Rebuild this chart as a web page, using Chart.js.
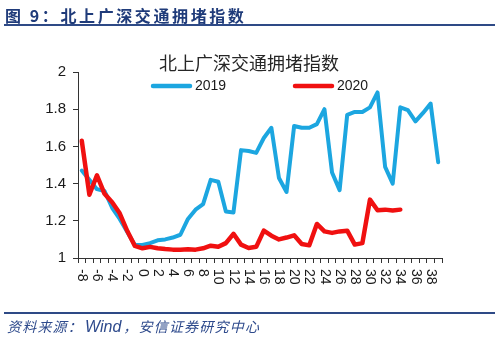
<!DOCTYPE html>
<html>
<head>
<meta charset="utf-8">
<script src="https://cdn.jsdelivr.net/npm/chart.js@4.4.0/dist/chart.umd.min.js"></script>
<style>
  html, body { margin: 0; padding: 0; background: #fff; }
  #wrap { position: relative; width: 500px; height: 337px; overflow: hidden; }
  #c { position: absolute; left: 0; top: 0; }
  .head { position: absolute; left: 5px; top: 3px; line-height: 20px; font: bold 16px "Noto Sans CJK SC"; color: #1F3B7A; letter-spacing: 2.6px; white-space: nowrap; }
  .rule { position: absolute; left: 4px; width: 491px; height: 2px; background: #2E4A86; }
  .src { position: absolute; left: 7px; top: 316px; line-height: 19px; font: italic 14px "Noto Sans CJK SC"; color: #2E4A8C; letter-spacing: 1.2px; white-space: nowrap; }
  .src b { font: italic 16px "Liberation Sans", Arial, sans-serif; letter-spacing: 0; padding: 0 2px; }
</style>
</head>
<body>
<div id="wrap">
  <canvas id="c" width="500" height="337"></canvas>
  <div class="head">图 9：北上广深交通拥堵指数</div>
  <div class="rule" style="top:24px"></div>
  <div class="rule" style="top:312px"></div>
  <div class="src">资料来源：<b>Wind</b>，安信证券研究中心</div>
</div>
<script>
const chartTitle = "北上广深交通拥堵指数";
const categories = ["-8", "-7", "-6", "-5", "-4", "-3", "-2", "-1", "0", "1", "2", "3", "4", "5", "6", "7",
  "8", "9", "10", "11", "12", "13", "14", "15", "16", "17", "18", "19", "20", "21", "22", "23",
  "24", "25", "26", "27", "28", "29", "30", "31", "32", "33", "34", "35", "36", "37", "38", "39"];
const seriesNames = ["2019", "2020"];
const values2019 = [1.47, 1.42, 1.37, 1.36, 1.27, 1.21, 1.14, 1.07, 1.07, 1.08, 1.095, 1.10, 1.11, 1.125, 1.21, 1.26,
  1.29, 1.42, 1.41, 1.25, 1.245, 1.58, 1.575, 1.565, 1.645, 1.70, 1.43, 1.355, 1.71, 1.70, 1.70, 1.72,
  1.80, 1.46, 1.365, 1.77, 1.785, 1.785, 1.81, 1.89, 1.49, 1.40, 1.81, 1.795, 1.735, 1.78, 1.83, 1.515];
const values2020 = [1.63, 1.34, 1.445, 1.345, 1.30, 1.24, 1.145, 1.065, 1.052, 1.06, 1.052, 1.048, 1.045, 1.045, 1.047, 1.045,
  1.052, 1.066, 1.06, 1.08, 1.13, 1.072, 1.054, 1.06, 1.147, 1.12, 1.10, 1.11, 1.122, 1.075, 1.068, 1.183,
  1.143, 1.135, 1.143, 1.147, 1.072, 1.08, 1.314, 1.257, 1.26, 1.255, 1.26];
const yMin = 1, yMax = 2, yStep = 0.2;

const blue = "#1CA6E0";
const red = "#F01010";
const axisColor = "#333333";
const textColor = "#1a1a1a";
const latin = '"Liberation Sans", Arial, sans-serif';

// x labels in the reference read top-to-bottom, so draw them ourselves at the scale's pixels
const rotatedXLabels = {
  id: "rotatedXLabels",
  afterDraw(chart) {
    const xs = chart.scales.x;
    const ctx = chart.ctx;
    ctx.save();
    ctx.font = "14px " + latin;
    ctx.fillStyle = textColor;
    ctx.textAlign = "left";
    ctx.textBaseline = "middle";
    categories.forEach((lab, i) => {
      if (Number(lab) % 2 !== 0) return;
      ctx.save();
      ctx.translate(xs.getPixelForValue(i), xs.top + 11);
      ctx.rotate(Math.PI / 2);
      ctx.fillText(lab, 0, 0);
      ctx.restore();
    });
    ctx.restore();
  }
};

// legend sits inside the plot, one row, wide gap between the two items
const innerLegend = {
  id: "innerLegend",
  afterDraw(chart) {
    const ctx = chart.ctx;
    const area = chart.chartArea;
    const y = area.top + 14;
    const starts = [area.left + 75, area.left + 217];
    ctx.save();
    ctx.font = "14px " + latin;
    ctx.textAlign = "left";
    ctx.textBaseline = "middle";
    chart.data.datasets.forEach((ds, i) => {
      const x0 = starts[i];
      ctx.strokeStyle = ds.borderColor;
      ctx.lineWidth = 4.5;
      ctx.lineCap = "round";
      ctx.beginPath();
      ctx.moveTo(x0, y);
      ctx.lineTo(x0 + 37, y);
      ctx.stroke();
      ctx.fillStyle = textColor;
      ctx.fillText(ds.label, x0 + 42, y);
    });
    ctx.restore();
  }
};

new Chart(document.getElementById("c"), {
  type: "line",
  data: {
    labels: categories,
    datasets: [{
      label: seriesNames[0],
      data: values2019,
      borderColor: blue,
      backgroundColor: blue,
      borderWidth: 4,
      pointRadius: 0,
      tension: 0,
      borderJoinStyle: "round",
      borderCapStyle: "round",
      order: 1
    }, {
      label: seriesNames[1],
      data: values2020,
      borderColor: red,
      backgroundColor: red,
      borderWidth: 4.5,
      pointRadius: 0,
      tension: 0,
      borderJoinStyle: "round",
      borderCapStyle: "round",
      order: 0
    }]
  },
  options: {
    responsive: false,
    animation: false,
    events: [],
    layout: {
      padding: { left: 38, right: 58, top: 54, bottom: 49 }
    },
    scales: {
      x: {
        type: "category",
        offset: true,
        afterFit: s => { s.height = 30; },
        grid: {
          offset: true,
          drawOnChartArea: false,
          drawTicks: true,
          tickLength: 5,
          color: axisColor
        },
        border: { display: true, color: axisColor, width: 1 },
        ticks: { display: false }
      },
      y: {
        min: yMin,
        max: yMax,
        afterFit: s => { s.width = 40; },
        grid: {
          drawOnChartArea: false,
          drawTicks: true,
          tickLength: 5,
          color: axisColor
        },
        border: { display: true, color: axisColor, width: 1 },
        ticks: {
          stepSize: yStep,
          padding: 7,
          color: textColor,
          font: { size: 15, family: latin },
          callback: v => String(Number(v.toFixed(1)))
        }
      }
    },
    plugins: {
      tooltip: { enabled: false },
      legend: { display: false },
      title: {
        display: true,
        // leading ideographic space nudges the centred title right, as in the reference
        text: "\u3000" + chartTitle,
        color: "#262626",
        font: { size: 18, family: '"Noto Sans CJK SC"', weight: "normal", lineHeight: 1 },
        padding: { top: 0, bottom: 0 }
      }
    }
  },
  plugins: [rotatedXLabels, innerLegend]
});
</script>
</body>
</html>
